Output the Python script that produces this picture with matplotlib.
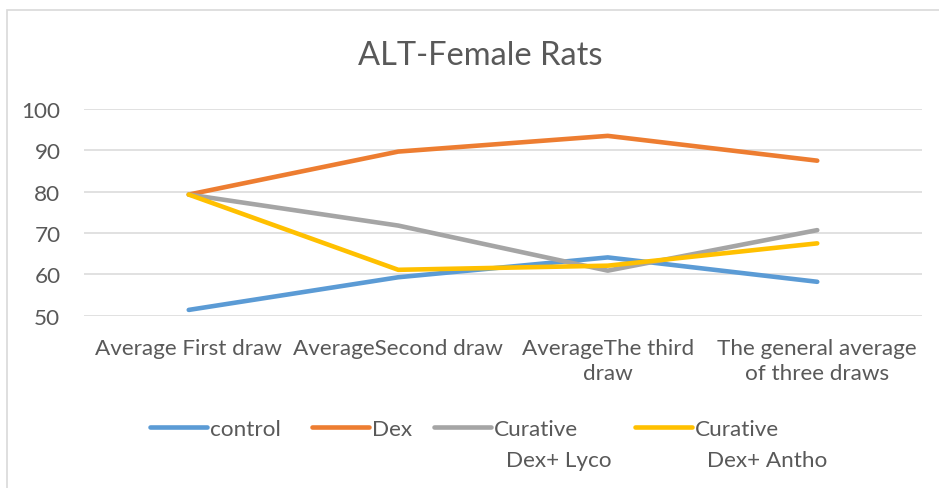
import matplotlib.pyplot as plt
from matplotlib.patches import Rectangle

categories = ["Average First draw", "AverageSecond draw",
              "AverageThe third\ndraw", "The general average\nof three draws"]
control = [51.4, 59.3, 64.1, 58.2]
dex = [79.3, 89.7, 93.5, 87.5]
lyco = [79.3, 71.8, 60.9, 70.7]
antho = [79.3, 61.1, 62.1, 67.5]

series_names = ["control", "Dex", "Curative", "Curative"]
second_lines = ["", "", "Dex+ Lyco", "Dex+ Antho"]
colors = ["#5B9BD5", "#ED7D31", "#A5A5A5", "#FFC000"]

plt.rcParams['font.family'] = ['Lato', 'DejaVu Sans']
txt = '#595959'
W, H = 939, 489
fs = 16.2

fig = plt.figure(figsize=(W / 100, H / 100), dpi=100)
ax = fig.add_axes([84/W, 1 - 316.7/H, (922 - 84)/W, (316.7 - 110)/H])

x = list(range(len(categories)))
lines = []
for vals, name, c in zip([control, dex, lyco, antho], series_names, colors):
    ln, = ax.plot(x, vals, color=c, linewidth=3.3, label=name,
                  solid_capstyle='round', solid_joinstyle='round', clip_on=False, zorder=3)
    lines.append(ln)

ax.set_xlim(-0.5, 3.5)
ax.set_ylim(50, 100)
ax.set_yticks([50, 60, 70, 80, 90, 100])
ax.set_xticks(x)
ax.set_xticklabels(categories, linespacing=1.3)
ax.tick_params(axis='both', length=0, labelsize=fs, labelcolor=txt)
ax.tick_params(axis='x', pad=16)
ax.tick_params(axis='y', pad=17)
ax.grid(axis='y', color='#D9D9D9', linewidth=1.1)
for s in ax.spines.values():
    s.set_visible(False)

fig.text(480/W, 1 - 56/H, "ALT-Female Rats", ha='center', va='center',
         fontsize=23.5, color=txt)

# one legend entry per series, laid out in a row under the plot
handle_x = [150, 312, 434, 635]
for ln, name, hx in zip(lines, series_names, handle_x):
    fig.legend([ln], [name], loc='center left', bbox_to_anchor=(hx/W, 1 - 430/H),
               frameon=False, fontsize=fs, handlelength=2.55, handletextpad=0.12,
               borderpad=0, borderaxespad=0, labelcolor=txt)

second_x = [0, 0, 506, 707]
for s, sx in zip(second_lines, second_x):
    if s:
        fig.text(sx/W, 1 - 461/H, s, ha='left', va='center', fontsize=fs, color=txt)

# chart frame
fig.patches.append(Rectangle((7/W, -0.1), 1.1, 1.1 - 11/H, transform=fig.transFigure,
                             fill=False, edgecolor='#D9D9D9', linewidth=1.2))

fig.savefig("out.png", dpi=100)
